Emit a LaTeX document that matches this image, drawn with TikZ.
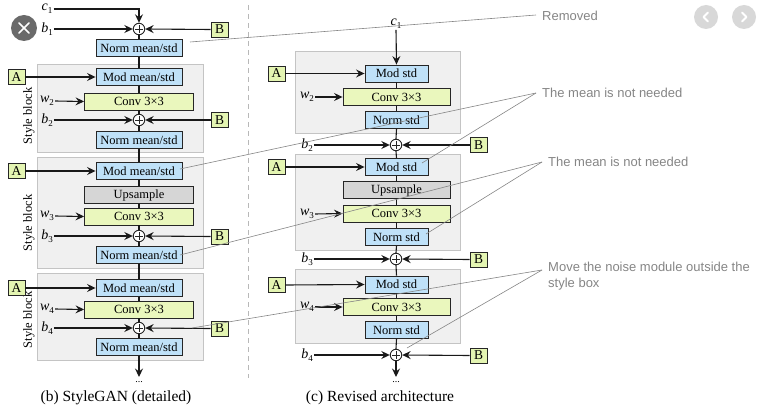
\documentclass[tikz,border=0pt]{standalone}
\usepackage{fontspec}
\setmainfont{Liberation Serif}
\newfontfamily\annfont{Liberation Sans}
\usetikzlibrary{arrows.meta}
\definecolor{bluebox}{HTML}{BFE1F8}
\definecolor{greenbox}{HTML}{E4F5B2}
\definecolor{convbox}{HTML}{EAF7BD}
\definecolor{upbox}{HTML}{D6D6D6}
\definecolor{blockfill}{HTML}{F0F0F0}
\definecolor{blockdraw}{HTML}{C4C4C4}
\definecolor{anncol}{HTML}{858585}
\definecolor{sepcol}{HTML}{B8B8B8}
\definecolor{uidark}{HTML}{6A6A6A}
\definecolor{uilight}{HTML}{D8D8D8}
\newcommand{\lbl}[2]{\textit{#1}\raisebox{-0.45ex}{\fontsize{9}{9}\selectfont #2}}
\begin{document}
\begin{tikzpicture}[x=1pt,y=-1pt,
  box/.style={draw=black!85, line width=0.9pt, inner sep=0pt, minimum height=17pt, font=\fontsize{12.5}{12.5}\selectfont},
  normbox/.style={box, fill=bluebox, minimum width=86pt},
  smallbox/.style={box, fill=bluebox, minimum width=63pt},
  convb/.style={box, fill=convbox, minimum width=109pt},
  upb/.style={box, fill=upbox, minimum width=109pt},
  abox/.style={box, fill=greenbox, minimum width=17pt, minimum height=15pt, font=\fontsize{13.5}{13.5}\selectfont},
  plusnode/.style={circle, draw=black!85, fill=white, line width=0.9pt, minimum size=11.5pt, inner sep=0pt,
    path picture={\draw[line width=0.7pt, shorten >=2pt, shorten <=2pt] (path picture bounding box.north) -- (path picture bounding box.south);
                  \draw[line width=0.7pt, shorten >=2pt, shorten <=2pt] (path picture bounding box.west) -- (path picture bounding box.east);}},
  block/.style={draw=blockdraw, fill=blockfill, line width=0.9pt, inner sep=0pt},
  blocklabel/.style={rotate=90, font=\fontsize{12.5}{12.5}\selectfont},
  inlab/.style={font=\fontsize{14}{14}\selectfont, inner sep=1pt},
  conn/.style={line width=1.1pt, black!90},
  arr/.style={conn, -{Stealth[length=8.5pt,width=8pt,inset=3pt]}},
  ann/.style={font=\annfont\fontsize{13}{15.5}\selectfont, text=anncol, inner sep=0pt, anchor=west, align=left},
  annline/.style={draw=anncol, line width=0.6pt},
  caption/.style={font=\fontsize{15.5}{15.5}\selectfont},
  dotsnode/.style={font=\fontsize{10}{10}\selectfont, inner sep=0pt}
]
\useasboundingbox (0,0) rectangle (760,414);

% ---------- separator ----------
\coordinate (sepTop) at (248,5);
\coordinate (sepBot) at (248,378);
\draw[draw=sepcol, line width=0.9pt, dash pattern=on 5pt off 4pt] (sepTop) -- (sepBot);

% ================= LEFT COLUMN (b) =================
\node[block, minimum width=166pt, minimum height=88pt] (lblk1) at (120,108) {};
\node[block, minimum width=166pt, minimum height=111pt] (lblk2) at (120,212.5) {};
\node[block, minimum width=166pt, minimum height=87pt] (lblk3) at (120,316.5) {};
\node[blocklabel] (lbl1) at (29,116) {Style block};
\node[blocklabel] (lbl2) at (29,223) {Style block};
\node[blocklabel] (lbl3) at (29,320) {Style block};

\node[inlab] (lc1) at (47,9) {\lbl{c}{1}};
\node[inlab] (lb1) at (47,29) {\lbl{b}{1}};
\node[plusnode] (lp1) at (139,29) {};
\node[abox] (lB1) at (219.5,29.5) {B};
\node[normbox] (ln1) at (139,48) {Norm mean/std};

\node[abox] (lA1) at (16.5,77) {A};
\node[normbox] (lm1) at (139,77) {Mod mean/std};
\node[inlab] (lw2) at (47,101) {\lbl{w}{2}};
\node[convb] (lc2) at (139,101.5) {Conv 3×3};
\node[inlab] (lb2) at (47,120) {\lbl{b}{2}};
\node[plusnode] (lp2) at (139,120) {};
\node[abox] (lB2) at (219.5,120) {B};
\node[normbox] (ln2) at (139,140) {Norm mean/std};

\node[abox] (lA2) at (16.5,171) {A};
\node[normbox] (lm2) at (139,171) {Mod mean/std};
\node[upb] (lup) at (139,195) {Upsample};
\node[inlab] (lw3) at (47,216) {\lbl{w}{3}};
\node[convb] (lc3) at (139,216.5) {Conv 3×3};
\node[inlab] (lb3) at (47,236) {\lbl{b}{3}};
\node[plusnode] (lp3) at (139,236) {};
\node[abox] (lB3) at (219.5,236.5) {B};
\node[normbox] (ln3) at (139,255) {Norm mean/std};

\node[abox] (lA3) at (16.5,288) {A};
\node[normbox] (lm3) at (139,288) {Mod mean/std};
\node[inlab] (lw4) at (47,309) {\lbl{w}{4}};
\node[convb] (lc4) at (139,309.5) {Conv 3×3};
\node[inlab] (lb4) at (47,328) {\lbl{b}{4}};
\node[plusnode] (lp4) at (139,328) {};
\node[abox] (lB4) at (219.5,328.5) {B};
\node[normbox] (ln4) at (139,347) {Norm mean/std};
\coordinate (lend) at (139,377);
\node[dotsnode] (ldots) at (139,382) {...};

\draw[arr] (lc1.east) -| (lp1.north);
\draw[arr] (lb1.east) -- (lp1.west);
\draw[arr] (lB1.west) -- (lp1.east);
\draw[conn] (lp1.south) -- (ln1.north);
\draw[conn] (ln1.south) -- (lm1.north);
\draw[arr] (lA1.east) -- (lm1.west);
\draw[conn] (lm1.south) -- (lc2.north);
\draw[arr] (lw2.east) -- (lc2.west);
\draw[conn] (lc2.south) -- (lp2.north);
\draw[arr] (lb2.east) -- (lp2.west);
\draw[arr] (lB2.west) -- (lp2.east);
\draw[conn] (lp2.south) -- (ln2.north);
\draw[conn] (ln2.south) -- (lm2.north);
\draw[arr] (lA2.east) -- (lm2.west);
\draw[conn] (lm2.south) -- (lup.north);
\draw[conn] (lup.south) -- (lc3.north);
\draw[arr] (lw3.east) -- (lc3.west);
\draw[conn] (lc3.south) -- (lp3.north);
\draw[arr] (lb3.east) -- (lp3.west);
\draw[arr] (lB3.west) -- (lp3.east);
\draw[conn] (lp3.south) -- (ln3.north);
\draw[conn] (ln3.south) -- (lm3.north);
\draw[arr] (lA3.east) -- (lm3.west);
\draw[conn] (lm3.south) -- (lc4.north);
\draw[arr] (lw4.east) -- (lc4.west);
\draw[conn] (lc4.south) -- (lp4.north);
\draw[arr] (lb4.east) -- (lp4.west);
\draw[arr] (lB4.west) -- (lp4.east);
\draw[conn] (lp4.south) -- (ln4.north);
\draw[arr] (ln4.south) -- (lend);

\node[caption] (lcap) at (116,398) {(b) StyleGAN (detailed)};

% ================= RIGHT COLUMN (c) =================
\node[block, minimum width=165pt, minimum height=82pt] (rblk1) at (377.5,92) {};
\node[block, minimum width=165pt, minimum height=96pt] (rblk2) at (377.5,202) {};
\node[block, minimum width=165pt, minimum height=74pt] (rblk3) at (377.5,306) {};

\node[inlab] (rc1) at (396,24) {\lbl{c}{1}};
\node[abox] (rA1) at (276.5,73.5) {A};
\node[smallbox] (rm1) at (396.5,73.5) {Mod std};
\node[inlab] (rw2) at (307,97) {\lbl{w}{2}};
\node[box, fill=convbox, minimum width=107pt] (rc2) at (396.5,97) {Conv 3×3};
\node[smallbox] (rn1) at (396.5,120) {Norm std};
\node[inlab] (rb2) at (307,145) {\lbl{b}{2}};
\node[plusnode] (rp2) at (396,145) {};
\node[abox] (rB2) at (478.5,145) {B};

\node[abox] (rA2) at (276.5,167) {A};
\node[smallbox] (rm2) at (396.5,167) {Mod std};
\node[box, fill=upbox, minimum width=107pt] (rup) at (396.5,190) {Upsample};
\node[inlab] (rw3) at (307,214) {\lbl{w}{3}};
\node[box, fill=convbox, minimum width=107pt] (rc3) at (396.5,213.5) {Conv 3×3};
\node[smallbox] (rn2) at (396.5,237) {Norm std};
\node[inlab] (rb3) at (307,259) {\lbl{b}{3}};
\node[plusnode] (rp3) at (396,259) {};
\node[abox] (rB3) at (478.5,259.5) {B};

\node[abox] (rA3) at (276.5,285) {A};
\node[smallbox] (rm3) at (396.5,284.5) {Mod std};
\node[inlab] (rw4) at (307,307) {\lbl{w}{4}};
\node[box, fill=convbox, minimum width=107pt] (rc4) at (396.5,307) {Conv 3×3};
\node[smallbox] (rn3) at (396.5,330) {Norm std};
\node[inlab] (rb4) at (307,355) {\lbl{b}{4}};
\node[plusnode] (rp4) at (396,355) {};
\node[abox] (rB4) at (478.5,355.5) {B};
\coordinate (rend) at (396,377);
\node[dotsnode] (rdots) at (396,382) {...};

\draw[arr] (rc1.south) -- (rm1.north);
\draw[arr] (rA1.east) -- (rm1.west);
\draw[conn] (rm1.south) -- (rc2.north);
\draw[arr] (rw2.east) -- (rc2.west);
\draw[conn] (rc2.south) -- (rn1.north);
\draw[conn] (rn1.south) -- (rp2.north);
\draw[arr] (rb2.east) -- (rp2.west);
\draw[arr] (rB2.west) -- (rp2.east);
\draw[conn] (rp2.south) -- (rm2.north);
\draw[arr] (rA2.east) -- (rm2.west);
\draw[conn] (rm2.south) -- (rup.north);
\draw[conn] (rup.south) -- (rc3.north);
\draw[arr] (rw3.east) -- (rc3.west);
\draw[conn] (rc3.south) -- (rn2.north);
\draw[conn] (rn2.south) -- (rp3.north);
\draw[arr] (rb3.east) -- (rp3.west);
\draw[arr] (rB3.west) -- (rp3.east);
\draw[conn] (rp3.south) -- (rm3.north);
\draw[arr] (rA3.east) -- (rm3.west);
\draw[conn] (rm3.south) -- (rc4.north);
\draw[arr] (rw4.east) -- (rc4.west);
\draw[conn] (rc4.south) -- (rn3.north);
\draw[conn] (rn3.south) -- (rp4.north);
\draw[arr] (rb4.east) -- (rp4.west);
\draw[arr] (rB4.west) -- (rp4.east);
\draw[arr] (rp4.south) -- (rend);

\node[caption] (rcap) at (380,398) {(c) Revised architecture};

% ================= ANNOTATIONS =================
\node[ann] (tRem) at (542,16) {Removed};
\node[ann] (tMean1) at (542,93) {The mean is not needed};
\node[ann] (tMean2) at (548,162) {The mean is not needed};
\node[ann, anchor=north west] (tMove) at (548,262) {Move the noise module outside the\\style box};

\coordinate (eRem) at (190,42);
\coordinate (eM1a) at (180,169);
\coordinate (eM1b) at (422,163);
\coordinate (eM2a) at (180,255);
\coordinate (eM2b) at (426,234);
\coordinate (eMva) at (192,328);
\coordinate (eMvb) at (407,348);
\coordinate (sRem) at (536,15);
\coordinate (sM1) at (536,93);
\coordinate (sM2) at (542,162);
\coordinate (sMv) at (542,270);

\draw[annline] (sRem) -- (eRem);
\draw[annline] (sM1) -- (eM1a);
\draw[annline] (sM1) -- (eM1b);
\draw[annline] (sM2) -- (eM2a);
\draw[annline] (sM2) -- (eM2b);
\draw[annline] (sMv) -- (eMva);
\draw[annline] (sMv) -- (eMvb);

% ================= UI OVERLAY ICONS =================
\node[circle, fill=uidark, minimum size=26pt, inner sep=0pt] (closeBtn) at (24,28) {};
\draw[white, line width=1.6pt, line cap=round] ([shift={(-5,-5)}]closeBtn.center) -- ([shift={(5,5)}]closeBtn.center);
\draw[white, line width=1.6pt, line cap=round] ([shift={(-5,5)}]closeBtn.center) -- ([shift={(5,-5)}]closeBtn.center);
\node[circle, fill=uilight, minimum size=24pt, inner sep=0pt] (prevBtn) at (706,17) {};
\node[circle, fill=uilight, minimum size=24pt, inner sep=0pt] (nextBtn) at (744,17) {};
\draw[white, line width=1.8pt, line cap=round, line join=round] ([shift={(2,-4.5)}]prevBtn.center) -- ([shift={(-2.5,0)}]prevBtn.center) -- ([shift={(2,4.5)}]prevBtn.center);
\draw[white, line width=1.8pt, line cap=round, line join=round] ([shift={(-2,-4.5)}]nextBtn.center) -- ([shift={(2.5,0)}]nextBtn.center) -- ([shift={(-2,4.5)}]nextBtn.center);
\end{tikzpicture}
\end{document}
